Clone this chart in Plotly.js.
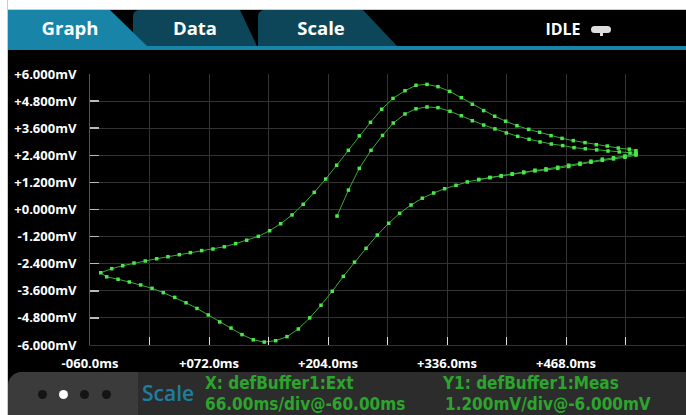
<!DOCTYPE html>
<html>
<head>
<meta charset="utf-8">
<script src="https://cdn.plot.ly/plotly-3.0.1.min.js"></script>
<style>
  html,body{margin:0;padding:0;background:#fff;}
  #wrap{position:relative;width:686px;height:415px;overflow:hidden;font-family:"Open Sans",sans-serif;}
  #plot{position:absolute;left:0;top:0;width:686px;height:415px;}
  .abs{position:absolute;}
  .txt{position:absolute;white-space:nowrap;}
  .grn{position:absolute;white-space:nowrap;color:#2ca52c;font-family:"DejaVu Sans Condensed","DejaVu Sans",sans-serif;font-stretch:condensed;font-weight:700;font-size:17px;height:20px;line-height:20px;}
</style>
</head>
<body>
<div id="wrap">
  <div id="plot"></div>
  <!-- white frame -->
  <div class="abs" style="left:0;top:0;width:686px;height:10px;background:#fff;border-bottom:1px solid #c8ccd0;box-sizing:border-box;"></div>
  <div class="abs" style="left:0;top:0;width:8px;height:415px;background:#fff;border-right:1px solid #c8ccd0;box-sizing:border-box;"></div>
  <!-- tab bar -->
  <div class="abs" style="left:8px;top:10px;width:678px;height:36px;background:#000;"></div>
  <div class="abs" style="left:258px;top:10px;width:140px;height:36px;background:#0c4658;border-top-left-radius:6px;clip-path:polygon(0 0,105px 0,139px 36px,0 36px);"></div>
  <div class="abs" style="left:133px;top:10px;width:125px;height:36px;background:#0c4658;border-top-left-radius:6px;clip-path:polygon(0 0,107px 0,124px 36px,0 36px);"></div>
  <div class="abs" style="left:8px;top:10px;width:140px;height:36px;background:#1784a8;clip-path:polygon(0 0,102px 0,139px 36px,0 36px);"></div>
  <div class="abs" style="left:8px;top:46px;width:678px;height:4px;background:#1784a8;"></div>
  <div class="txt" style="left:20px;width:100px;top:16px;height:24px;line-height:24px;text-align:center;color:#fff;font-weight:700;font-size:18.5px;">Graph</div>
  <div class="txt" style="left:145px;width:100px;top:16px;height:24px;line-height:24px;text-align:center;color:#fff;font-weight:700;font-size:18.5px;">Data</div>
  <div class="txt" style="left:271px;width:100px;top:16px;height:24px;line-height:24px;text-align:center;color:#fff;font-weight:700;font-size:18.5px;">Scale</div>
  <div class="txt" style="left:523px;width:80px;top:17px;height:24px;line-height:24px;text-align:center;color:#fff;font-weight:700;font-size:16px;">IDLE</div>
  <div class="abs" style="left:591px;top:26px;width:20px;height:7px;background:#ddd;border-radius:4px;"></div>
  <div class="abs" style="left:600px;top:32px;width:3px;height:4px;background:#ddd;"></div>
  <!-- bottom panel -->
  <div class="abs" style="left:8px;top:372px;width:678px;height:43px;background:#2c2c2c;border-top-left-radius:14px;"></div>
  <div class="abs" style="left:8px;top:372px;width:130px;height:43px;background:#3b3b3b;border-top-left-radius:14px;"></div>
  <div class="abs" style="left:37.5px;top:389.5px;width:9px;height:9px;border-radius:50%;background:#141414;"></div>
  <div class="abs" style="left:58.5px;top:389.5px;width:9px;height:9px;border-radius:50%;background:#fff;"></div>
  <div class="abs" style="left:79.5px;top:389.5px;width:9px;height:9px;border-radius:50%;background:#141414;"></div>
  <div class="abs" style="left:101.5px;top:389.5px;width:9px;height:9px;border-radius:50%;background:#141414;"></div>
  <div class="txt" style="left:142px;top:381px;height:24px;line-height:24px;color:#1e7ea0;font-weight:600;font-size:21px;">Scale</div>
  <div class="grn" style="left:205px;top:373px;">X: defBuffer1:Ext</div>
  <div class="grn" style="left:205px;top:394px;">66.00ms/div@-60.00ms</div>
  <div class="grn" style="left:443px;top:373px;">Y1: defBuffer1:Meas</div>
  <div class="grn" style="left:445px;top:394px;">1.200mV/div@-6.000mV</div>
</div>
<script>
// ---- data (x in ms, y in mV) ----
// first forward sweep (starting point, inner peak, out to the turning point)
var fwd1Ms = [214.0, 226.7, 238.7, 251.7, 264.5, 276.4, 289.4, 301.6, 313.8, 326.0, 339.3, 351.9, 364.1, 376.7, 389.2, 401.8, 414.4, 427.0, 439.2, 451.7, 464.3, 476.9, 489.4, 502.0, 514.6, 527.1, 539.0, 545.6];
var fwd1mV = [-0.29, 0.86, 1.82, 2.62, 3.28, 3.83, 4.23, 4.46, 4.54, 4.51, 4.35, 4.15, 3.93, 3.74, 3.57, 3.39, 3.24, 3.11, 2.99, 2.90, 2.83, 2.74, 2.69, 2.64, 2.59, 2.55, 2.50, 2.49];
// first reverse sweep (down through the minimum to the left turning point)
var rev1Ms = [545.6, 533.4, 520.7, 508.3, 495.7, 483.5, 471.0, 458.8, 445.8, 433.6, 421.1, 408.4, 396.2, 383.7, 371.2, 358.5, 346.0, 333.4, 321.2, 308.6, 296.1, 283.5, 271.3, 258.7, 246.2, 233.4, 221.0, 208.7, 196.2, 183.7, 171.1, 158.5, 146.0, 133.3, 121.1, 108.6, 96.4, 83.9, 71.2, 58.7, 46.5, 34.0, 21.3, 8.8, -3.8, -16.4, -28.9, -41.5, -48.1];
var rev1mV = [2.41, 2.31, 2.24, 2.18, 2.09, 2.00, 1.90, 1.82, 1.75, 1.71, 1.63, 1.56, 1.48, 1.41, 1.32, 1.22, 1.07, 0.92, 0.73, 0.50, 0.20, -0.17, -0.61, -1.13, -1.72, -2.33, -2.96, -3.62, -4.24, -4.80, -5.29, -5.63, -5.81, -5.87, -5.77, -5.54, -5.25, -4.98, -4.67, -4.38, -4.13, -3.89, -3.68, -3.49, -3.34, -3.21, -3.09, -2.98, -2.80];
// second forward sweep (outer peak)
var fwd2Ms = [-35.9, -23.7, -11.2, 1.3, 14.0, 26.5, 39.1, 51.3, 63.9, 76.4, 89.0, 101.6, 113.8, 126.7, 139.3, 151.5, 164.1, 176.5, 188.7, 201.5, 213.6, 226.6, 238.7, 251.1, 263.6, 276.1, 289.4, 301.6, 313.8, 326.0, 339.0, 351.9, 364.1, 376.7, 388.9, 401.1, 413.6, 426.6, 438.8, 451.4, 463.6, 476.1, 489.1, 501.6, 513.8, 526.0, 538.2, 545.6];
var fwd2mV = [-2.62, -2.49, -2.37, -2.28, -2.18, -2.09, -2.00, -1.91, -1.82, -1.75, -1.65, -1.51, -1.36, -1.19, -0.94, -0.63, -0.24, 0.23, 0.76, 1.35, 1.96, 2.62, 3.26, 3.86, 4.44, 4.92, 5.26, 5.50, 5.54, 5.44, 5.23, 4.95, 4.66, 4.38, 4.13, 3.91, 3.71, 3.55, 3.42, 3.27, 3.15, 3.05, 2.96, 2.87, 2.81, 2.72, 2.67, 2.60];
// second reverse sweep (partial)
var rev2Ms = [545.6, 533.4, 520.7, 508.3, 495.7, 483.5, 471.0, 458.8, 445.8, 433.6, 421.1, 408.4, 396.2, 383.7, 371.2];
var rev2mV = [2.45, 2.37, 2.29, 2.23, 2.14, 2.05, 1.96, 1.87, 1.80, 1.74, 1.66, 1.58, 1.50, 1.42, 1.33];

var xTickVals = [-60, 72, 204, 336, 468];
var xTickText = ['-060.0ms', '+072.0ms', '+204.0ms', '+336.0ms', '+468.0ms'];
var yTickVals = [6, 4.8, 3.6, 2.4, 1.2, 0, -1.2, -2.4, -3.6, -4.8, -6];
var yTickText = ['+6.000mV', '+4.800mV', '+3.600mV', '+2.400mV', '+1.200mV', '+0.000mV', '-1.200mV', '-2.400mV', '-3.600mV', '-4.800mV', '-6.000mV'];

var xs = fwd1Ms.concat(rev1Ms, fwd2Ms, rev2Ms);
var ys = fwd1mV.concat(rev1mV, fwd2mV, rev2mV);

var trace = {
  x: xs, y: ys, type: 'scatter', mode: 'lines+markers',
  line: {color: '#3aa83a', width: 1},
  marker: {symbol: 'square', size: 3.5, color: '#4be84b'},
  hoverinfo: 'skip'
};

var gridCol = '#333333';
var layout = {
  width: 686, height: 415,
  margin: {l: 90, r: 1, t: 74, b: 70},
  paper_bgcolor: '#000', plot_bgcolor: '#000',
  showlegend: false,
  font: {family: 'Open Sans, sans-serif', color: '#fff'},
  xaxis: {
    range: [-60, 600], tickmode: 'array', tickvals: xTickVals, ticktext: xTickText,
    showgrid: true, gridcolor: gridCol, gridwidth: 1, zeroline: false,
    ticks: 'inside', ticklen: 8, tickcolor: '#dddddd', tickwidth: 1,
    showline: true, linecolor: '#333333', linewidth: 1,
    tickfont: {size: 13, color: '#fff', weight: 700},
    ticklabelstandoff: 6,
    minor: {tickmode: 'linear', tick0: -60, dtick: 66, showgrid: true, gridcolor: gridCol, gridwidth: 1, ticks: 'inside', ticklen: 8, tickcolor: '#dddddd'},
    fixedrange: true
  },
  yaxis: {
    range: [-6, 6], tickmode: 'array', tickvals: yTickVals, ticktext: yTickText,
    showgrid: true, gridcolor: gridCol, gridwidth: 1, zeroline: false,
    ticks: 'inside', ticklen: 9, tickcolor: '#bbbbbb', tickwidth: 1.5,
    showline: true, linecolor: '#555555', linewidth: 1,
    tickfont: {size: 13, color: '#fff', weight: 700},
    ticklabelstandoff: 10,
    fixedrange: true
  }
};

Plotly.newPlot('plot', [trace], layout, {displayModeBar: false, staticPlot: true});
</script>
</body>
</html>
